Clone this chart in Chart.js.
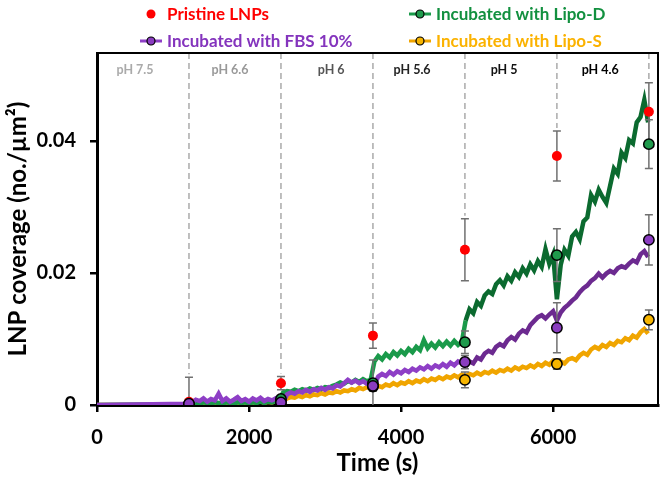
<!DOCTYPE html>
<html lang="en">
<head>
<meta charset="UTF-8">
<title>LNP coverage</title>
<style>
  body { margin: 0; background: #fff; }
  canvas { display: block; }
</style>
</head>
<body>
<canvas id="myCanvas" width="666" height="478"></canvas>
<script src="https://cdn.jsdelivr.net/npm/chart.js"></script>
<script>
// time axis (s) for the traces
const times = [0, 1210,
  1250, 1300, 1350, 1400, 1450, 1500, 1550, 1600, 1650, 1700, 1750, 1800, 1850, 1900, 1950, 2000, 2050, 2100, 2150, 2200, 2250, 2300, 2350, 2400,
  2450, 2500, 2550, 2600, 2650, 2700, 2750, 2800, 2850, 2900, 2950, 3000, 3050, 3100, 3150, 3200, 3250, 3300, 3350, 3400, 3450, 3500, 3550, 3600,
  3650, 3700, 3750, 3800, 3850, 3900, 3950, 4000, 4050, 4100, 4150, 4200, 4250, 4300, 4350, 4400, 4450, 4500, 4550, 4600, 4650, 4700, 4750, 4800,
  4850, 4900, 4950, 5000, 5050, 5100, 5150, 5200, 5250, 5300, 5350, 5400, 5450, 5500, 5550, 5600, 5650, 5700, 5750, 5800, 5850, 5900, 5950, 6000, 6050,
  6100, 6150, 6200, 6250, 6300, 6350, 6400, 6450, 6500, 6550, 6600, 6650, 6700, 6750, 6800, 6850, 6900, 6950, 7000, 7050, 7100, 7150, 7200, 7250];

const fbsTrace = [0, 0.0002,
  0.0004, 0.0008, 0.0006, 0.0010, 0.0005, 0.0009, 0.0007, 0.0017, 0.0006, 0.0010, 0.0005, 0.0008, 0.0012, 0.0006, 0.0009, 0.0005, 0.0010, 0.0007, 0.0011, 0.0006, 0.0009, 0.0007, 0.0010, 0.0006,
  0.0004, 0.0016, 0.0019, 0.0017, 0.0021, 0.0019, 0.0023, 0.0020, 0.0024, 0.0022, 0.0026, 0.0023, 0.0027, 0.0025, 0.0030, 0.0028, 0.0033, 0.0038, 0.0034, 0.0037, 0.0033, 0.0036, 0.0032, 0.0034,
  0.0031, 0.0043, 0.0047, 0.0044, 0.0050, 0.0046, 0.0051, 0.0048, 0.0053, 0.0050, 0.0055, 0.0052, 0.0057, 0.0054, 0.0059, 0.0055, 0.0060, 0.0057, 0.0062, 0.0058, 0.0064, 0.0060, 0.0066, 0.0063,
  0.0058, 0.0066, 0.0063, 0.0072, 0.0069, 0.0078, 0.0082, 0.0079, 0.0088, 0.0092, 0.0089, 0.0098, 0.0103, 0.0099, 0.0108, 0.0113, 0.0110, 0.0121, 0.0127, 0.0133, 0.0136, 0.0131, 0.0137, 0.0142, 0.0128,
  0.0140, 0.0147, 0.0152, 0.0158, 0.0163, 0.0171, 0.0177, 0.0181, 0.0188, 0.0192, 0.0199, 0.0193, 0.0199, 0.0203, 0.0200, 0.0207, 0.0210, 0.0208, 0.0214, 0.0219, 0.0216, 0.0228, 0.0233, 0.0224];

const lipoDTrace = [0, 0.0001,
  0.0002, 0.0003, 0.0002, 0.0004, 0.0003, 0.0002, 0.0004, 0.0003, 0.0002, 0.0004, 0.0003, 0.0002, 0.0004, 0.0003, 0.0004, 0.0002, 0.0004, 0.0003, 0.0005, 0.0003, 0.0005, 0.0004, 0.0006, 0.0008,
  0.0019, 0.0021, 0.0020, 0.0023, 0.0021, 0.0024, 0.0022, 0.0025, 0.0023, 0.0026, 0.0024, 0.0027, 0.0026, 0.0029, 0.0031, 0.0034, 0.0032, 0.0036, 0.0034, 0.0038, 0.0035, 0.0039, 0.0036, 0.0038,
  0.0066, 0.0074, 0.0069, 0.0077, 0.0072, 0.0080, 0.0075, 0.0082, 0.0077, 0.0085, 0.0080, 0.0088, 0.0083, 0.0098, 0.0086, 0.0093, 0.0087, 0.0095, 0.0089, 0.0096, 0.0090, 0.0097, 0.0091, 0.0096,
  0.0128, 0.0145, 0.0139, 0.0156, 0.0150, 0.0166, 0.0172, 0.0168, 0.0183, 0.0189, 0.0181, 0.0195, 0.0188, 0.0201, 0.0194, 0.0207, 0.0199, 0.0213, 0.0204, 0.0218, 0.0209, 0.0236, 0.0214, 0.0228, 0.0160,
  0.0212, 0.0235, 0.0226, 0.0255, 0.0262, 0.0251, 0.0278, 0.0284, 0.0318, 0.0308, 0.0326, 0.0315, 0.0306, 0.0332, 0.0358, 0.0350, 0.0382, 0.0374, 0.0401, 0.0396, 0.0428, 0.0436, 0.0462, 0.0428];

const lipoSTrace = [0, 0,
  0.0001, 0.0002, 0.0001, 0.0003, 0.0002, 0.0001, 0.0003, 0.0002, 0.0004, 0.0002, 0.0003, 0.0005, 0.0003, 0.0004, 0.0002, 0.0005, 0.0003, 0.0004, 0.0006, 0.0003, 0.0005, 0.0004, 0.0006, 0.0005,
  0.0007, 0.0010, 0.0012, 0.0011, 0.0014, 0.0012, 0.0015, 0.0013, 0.0016, 0.0015, 0.0018, 0.0016, 0.0019, 0.0018, 0.0021, 0.0019, 0.0022, 0.0021, 0.0024, 0.0022, 0.0026, 0.0024, 0.0027, 0.0025,
  0.0026, 0.0029, 0.0027, 0.0031, 0.0029, 0.0033, 0.0030, 0.0034, 0.0032, 0.0036, 0.0033, 0.0037, 0.0035, 0.0039, 0.0036, 0.0040, 0.0038, 0.0042, 0.0039, 0.0043, 0.0041, 0.0045, 0.0042, 0.0046,
  0.0044, 0.0047, 0.0045, 0.0049, 0.0046, 0.0050, 0.0048, 0.0052, 0.0049, 0.0053, 0.0051, 0.0055, 0.0052, 0.0057, 0.0054, 0.0058, 0.0056, 0.0060, 0.0057, 0.0062, 0.0059, 0.0064, 0.0061, 0.0067, 0.0064,
  0.0066, 0.0063, 0.0069, 0.0071, 0.0068, 0.0075, 0.0079, 0.0076, 0.0084, 0.0088, 0.0085, 0.0091, 0.0088, 0.0094, 0.0091, 0.0097, 0.0095, 0.0101, 0.0098, 0.0105, 0.0102, 0.0110, 0.0115, 0.0108];

// measured points with error bars
const markTimes = [1210, 2420, 3630, 4840, 6050, 7260];
const pristine = [0.0005, 0.0033, 0.0105, 0.0235, 0.0377, 0.0444];
const pristineErr = [0.0037, 0.0010, 0.0019, 0.0047, 0.0038, 0.0044];
const lipoD = [0.0001, 0.0009, 0.0033, 0.0095, 0.0227, 0.0395];
const lipoDErr = [0, 0.0005, 0.0035, 0.0017, 0.0040, 0.0037];
const fbs = [0.0002, 0.0004, 0.0029, 0.0065, 0.0117, 0.0250];
const fbsErr = [0, 0.0003, 0.0008, 0.0010, 0.0038, 0.0038];
const lipoS = [0.0001, 0.0005, 0.0028, 0.0038, 0.0062, 0.0129];
const lipoSErr = [0, 0.0003, 0.0005, 0.0012, 0.0008, 0.0015];

// pH stages
const phLabels = ['pH 7.5', 'pH 6.6', 'pH 6', 'pH 5.6', 'pH 5', 'pH 4.6'];
const phLabelTimes = [500, 1750, 3080, 4145, 5355, 6620];
const phColors = ['#aaaaaa', '#999999', '#555555', '#222222', '#111111', '#000000'];

const xTicks = [0, 2000, 4000, 6000];
const yTicks = [0, 0.02, 0.04];

const FONT = 'Lato, "Open Sans", sans-serif';

function pts(xs, ys) { return xs.map((x, i) => ({x: x, y: ys[i]})); }

const seriesStyle = [
  {label: 'Incubated with FBS 10%', light: '#8e3fc6', dark: '#6c2a90', fill: '#8a3cc0', marks: fbs, err: fbsErr, trace: fbsTrace},
  {label: 'Incubated with Lipo-D', light: '#1a9a4a', dark: '#0b6a2f', fill: '#1f9a4c', marks: lipoD, err: lipoDErr, trace: lipoDTrace},
  {label: 'Incubated with Lipo-S', light: '#f0a500', dark: '#f0a500', fill: '#f7b500', marks: lipoS, err: lipoSErr, trace: lipoSTrace}
];

const datasets = [];
// markers (first dataset is drawn on top)
seriesStyle.forEach(s => {
  datasets.push({
    kind: 'marks', data: pts(markTimes, s.marks), showLine: false,
    pointRadius: 5.2, pointBackgroundColor: s.fill, pointBorderColor: '#000', pointBorderWidth: 1.5
  });
});
datasets.push({
  kind: 'pristine', data: pts(markTimes, pristine), showLine: false,
  pointRadius: 5, pointBackgroundColor: '#ff0000', pointBorderColor: '#ff0000', pointBorderWidth: 0
});
// traces
seriesStyle.forEach(s => {
  datasets.push({
    kind: 'trace', data: pts(times, s.trace), showLine: true, pointRadius: 0,
    borderWidth: 4.5, borderColor: s.light, tension: 0, borderJoinStyle: 'miter',
    segment: {borderColor: c => c.p0.parsed.x >= 4840 ? s.dark : s.light}
  });
});

const errorSets = [
  {vals: pristine, err: pristineErr},
  {vals: lipoD, err: lipoDErr},
  {vals: fbs, err: fbsErr},
  {vals: lipoS, err: lipoSErr}
];

const decorations = {
  id: 'decorations',
  beforeDatasetsDraw(chart) {
    const ctx = chart.ctx, x = chart.scales.x, y = chart.scales.y, area = chart.chartArea;
    ctx.save();
    // dashed stage lines down to the top of the highest error bar
    ctx.strokeStyle = '#aaaaaa';
    ctx.lineWidth = 1.5;
    ctx.setLineDash([6, 4]);
    markTimes.forEach((t, i) => {
      let top = 0;
      errorSets.forEach(e => { top = Math.max(top, e.vals[i] + e.err[i]); });
      const px = x.getPixelForValue(t);
      ctx.beginPath();
      ctx.moveTo(px, area.top);
      ctx.lineTo(px, y.getPixelForValue(top) - 3);
      ctx.stroke();
    });
    ctx.restore();
  },
  beforeDatasetDraw(chart, args) {
    if (chart.data.datasets[args.index].kind !== 'pristine') return;
    const ctx = chart.ctx, x = chart.scales.x, y = chart.scales.y, area = chart.chartArea;
    ctx.save();
    ctx.beginPath();
    ctx.rect(area.left, area.top, area.right - area.left, area.bottom - area.top);
    ctx.clip();
    ctx.strokeStyle = '#707070';
    ctx.lineWidth = 1.5;
    errorSets.forEach(e => {
      markTimes.forEach((t, i) => {
        if (!e.err[i]) return;
        const px = x.getPixelForValue(t);
        const y1 = y.getPixelForValue(e.vals[i] + e.err[i]);
        const y2 = y.getPixelForValue(e.vals[i] - e.err[i]);
        ctx.beginPath();
        ctx.moveTo(px, y1); ctx.lineTo(px, y2);
        ctx.moveTo(px - 4, y1); ctx.lineTo(px + 4, y1);
        ctx.moveTo(px - 4, y2); ctx.lineTo(px + 4, y2);
        ctx.stroke();
      });
    });
    ctx.restore();
  },
  afterDraw(chart) {
    const ctx = chart.ctx, x = chart.scales.x, area = chart.chartArea;
    ctx.save();
    // top and right frame
    ctx.strokeStyle = '#000';
    ctx.lineWidth = 2;
    ctx.beginPath();
    ctx.moveTo(area.left, area.top);
    ctx.lineTo(area.right, area.top);
    ctx.lineTo(area.right, area.bottom);
    ctx.stroke();
    // pH labels
    ctx.font = 'bold 12.5px ' + FONT;
    ctx.textAlign = 'center';
    ctx.textBaseline = 'middle';
    phLabels.forEach((l, i) => {
      ctx.fillStyle = phColors[i];
      ctx.fillText(l, x.getPixelForValue(phLabelTimes[i]), area.top + 17);
    });
    // legend
    ctx.font = 'bold 17px ' + FONT;
    ctx.textAlign = 'left';
    const items = [
      {text: 'Pristine LNPs', color: '#ff0000', fill: '#ff0000', line: null, lx: 140, ly: 14},
      {text: 'Incubated with FBS 10%', color: '#8434bd', fill: '#8a3cc0', line: '#8e3fc6', lx: 140, ly: 41},
      {text: 'Incubated with Lipo-D', color: '#12903f', fill: '#1f9a4c', line: '#1a9a4a', lx: 409, ly: 14},
      {text: 'Incubated with Lipo-S', color: '#fbb200', fill: '#f7b500', line: '#f0a500', lx: 409, ly: 41}
    ];
    items.forEach(it => {
      const cx = it.lx + 11;
      if (it.line) {
        ctx.strokeStyle = it.line;
        ctx.lineWidth = 3;
        ctx.beginPath();
        ctx.moveTo(it.lx, it.ly); ctx.lineTo(it.lx + 22, it.ly);
        ctx.stroke();
        ctx.beginPath();
        ctx.arc(cx, it.ly, 4, 0, Math.PI * 2);
        ctx.fillStyle = it.fill; ctx.fill();
        ctx.lineWidth = 1.2; ctx.strokeStyle = '#000'; ctx.stroke();
      } else {
        ctx.beginPath();
        ctx.arc(cx, it.ly, 4.5, 0, Math.PI * 2);
        ctx.fillStyle = it.fill; ctx.fill();
      }
      ctx.fillStyle = it.color;
      ctx.fillText(it.text, it.lx + 27, it.ly + 1);
    });
    ctx.restore();
  }
};

const ctx = document.getElementById('myCanvas').getContext('2d');
const myChart = new Chart(ctx, {
  type: 'scatter',
  data: {datasets: datasets},
  plugins: [decorations],
  options: {
    responsive: false,
    animation: false,
    devicePixelRatio: 1,
    layout: {padding: {top: 53, right: 8, left: 0, bottom: 0}},
    plugins: {legend: {display: false}, tooltip: {enabled: false}},
    scales: {
      x: {
        type: 'linear', min: 0, max: 7380,
        afterBuildTicks: s => { s.ticks = xTicks.map(v => ({value: v})); },
        afterFit: s => { s.height = 73; },
        border: {display: true, color: '#000', width: 3},
        grid: {drawOnChartArea: false, drawTicks: true, tickLength: 7, color: '#000', lineWidth: 2.5},
        ticks: {color: '#000', font: {family: FONT, size: 20, weight: 'bold'}, padding: 14, maxRotation: 0,
          callback: v => String(v)},
        title: {display: true, text: 'Time (s)', color: '#000', font: {family: FONT, size: 24, weight: 'bold'}, padding: {top: 0, bottom: 0}}
      },
      y: {
        min: 0, max: 0.0533,
        afterBuildTicks: s => { s.ticks = yTicks.map(v => ({value: v})); },
        afterFit: s => { s.width = 97; },
        border: {display: true, color: '#000', width: 3},
        grid: {drawOnChartArea: false, drawTicks: true, tickLength: 7, color: '#000', lineWidth: 2.5},
        ticks: {color: '#000', font: {family: FONT, size: 20, weight: 'bold'}, padding: 14,
          callback: v => v === 0 ? '0' : v.toFixed(2)},
        title: {display: true, text: 'LNP coverage (no./µm²)', color: '#000', font: {family: FONT, size: 24, weight: 'bold'}, padding: {top: 4, bottom: 0}}
      }
    }
  }
});
</script>
</body>
</html>
